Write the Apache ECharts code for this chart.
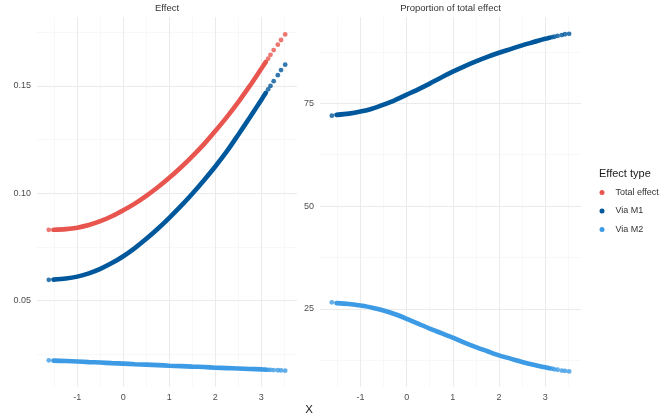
<!DOCTYPE html>
<html>
<head>
<meta charset="utf-8">
<script src="https://cdn.jsdelivr.net/npm/echarts@6/dist/echarts.min.js"></script>
<style>
html,body{margin:0;padding:0;background:#fff;}
#chart{width:670px;height:419px;}
</style>
</head>
<body>
<div id="chart"></div>
<script>
// ---- data ----
const seriesNames = ['Total effect', 'Via M1', 'Via M2'];
// X values along the dense part of each curve
const xDense = [-1.52, -1.25, -1, -0.75, -0.5, -0.25, 0, 0.25, 0.5, 0.75, 1, 1.25, 1.5, 1.75, 2, 2.25, 2.5, 2.75, 3, 3.10];
// X values of the isolated points at the tails
const xTail = [-1.62, 3.15, 3.20, 3.27, 3.36, 3.43, 3.52];

// Left panel: Effect
const totalDense = [0.0830, 0.0833, 0.0840, 0.0852, 0.0870, 0.0893, 0.0921, 0.0952, 0.0988, 0.1028, 0.1072, 0.1120, 0.1172, 0.1228, 0.1290, 0.1355, 0.1425, 0.1500, 0.1580, 0.1612];
const totalTail = [0.0830, 0.1627, 0.1645, 0.1667, 0.1692, 0.1714, 0.1740];
const m1Dense = [0.0598, 0.0603, 0.0612, 0.0627, 0.0648, 0.0675, 0.0707, 0.0745, 0.0788, 0.0835, 0.0886, 0.0940, 0.0998, 0.1060, 0.1125, 0.1195, 0.1273, 0.1353, 0.1435, 0.1468];
const m1Tail = [0.0597, 0.1484, 0.1500, 0.1522, 0.1550, 0.1574, 0.1599];
const m2Dense = [0.0221, 0.0219, 0.0217, 0.0214, 0.0212, 0.0209, 0.0207, 0.0204, 0.0202, 0.0200, 0.0197, 0.0195, 0.0193, 0.0191, 0.0188, 0.0186, 0.0184, 0.0182, 0.0180, 0.0179];
const m2Tail = [0.0222, 0.0178, 0.0178, 0.0177, 0.0176, 0.0175, 0.0174];

// Right panel: Proportion of total effect (%)
const propM1Dense = [72.2, 72.5, 73.0, 73.7, 74.7, 75.8, 77.1, 78.4, 79.8, 81.3, 82.7, 84.0, 85.2, 86.3, 87.3, 88.2, 89.1, 89.9, 90.7, 90.95];
const propM1Tail = [72.0, 91.1, 91.2, 91.4, 91.6, 91.8, 91.9];
const propM2Dense = [26.4, 26.2, 25.8, 25.3, 24.6, 23.7, 22.6, 21.4, 20.2, 19.1, 18.0, 16.8, 15.7, 14.7, 13.7, 12.9, 12.1, 11.4, 10.8, 10.55];
const propM2Tail = [26.6, 10.45, 10.3, 10.2, 10.0, 9.9, 9.8];

// tick values
const xMajorTicks = [-1, 0, 1, 2, 3];
const xMinorTicks = [-1.5, -0.5, 0.5, 1.5, 2.5, 3.5];
const yLeftMajorTicks = [0.05, 0.10, 0.15];
const yLeftMinorTicks = [0.025, 0.075, 0.125, 0.175];
const yRightMajorTicks = [25, 50, 75];
const yRightMinorTicks = [12.5, 37.5, 62.5, 87.5];

// ---- styling ----
const colors = {'Total effect': '#E8554E', 'Via M1': '#00589C', 'Via M2': '#3D9BE5'};
const FONT = 'Liberation Sans, Arial, sans-serif';

function pair(xs, ys) { return xs.map((x, i) => [x, ys[i]]); }

function makeAxis(grid, min, max, vals, minor, fmt) {
  return {
    type: 'value', gridIndex: grid, min: min, max: max,
    axisLine: {show: false},
    axisTick: {show: false, customValues: vals},
    axisLabel: minor ? {show: false} : {
      show: true, customValues: vals, formatter: fmt,
      color: '#4D4D4D', fontSize: 9, margin: 6, fontFamily: FONT
    },
    splitLine: {show: true, lineStyle: {color: minor ? '#F3F3F3' : '#EBEBEB', width: minor ? 0.6 : 1}},
    z: minor ? 0 : 1
  };
}

const xMin = -1.877, xMax = 3.777;
const xAxes = [
  makeAxis(0, xMin, xMax, xMajorTicks, false, v => String(v)),
  makeAxis(0, xMin, xMax, xMinorTicks, true),
  makeAxis(1, xMin, xMax, xMajorTicks, false, v => String(v)),
  makeAxis(1, xMin, xMax, xMinorTicks, true)
];
const yAxes = [
  makeAxis(0, 0.0098, 0.1821, yLeftMajorTicks, false, v => v.toFixed(2)),
  makeAxis(0, 0.0098, 0.1821, yLeftMinorTicks, true),
  makeAxis(1, 6.0, 96.0, yRightMajorTicks, false, v => String(v)),
  makeAxis(1, 6.0, 96.0, yRightMinorTicks, true)
];

function curve(name, axisIdx, dense, tail) {
  return [
    {
      name: name, type: 'line', xAxisIndex: axisIdx, yAxisIndex: axisIdx,
      data: pair(xDense, dense), smooth: 0.3, showSymbol: false, symbol: 'none',
      lineStyle: {color: colors[name], width: 4.6, cap: 'round'},
      itemStyle: {color: colors[name]}, z: 3
    },
    {
      name: name, type: 'scatter', xAxisIndex: axisIdx, yAxisIndex: axisIdx,
      data: pair(xTail, tail), symbolSize: 4.8,
      itemStyle: {color: colors[name]}, z: 3
    }
  ];
}

const series = [].concat(
  curve('Total effect', 0, totalDense, totalTail),
  curve('Via M1', 0, m1Dense, m1Tail),
  curve('Via M2', 0, m2Dense, m2Tail),
  curve('Via M1', 2, propM1Dense, propM1Tail),
  curve('Via M2', 2, propM2Dense, propM2Tail)
);

const chart = echarts.init(document.getElementById('chart'), null, {renderer: 'canvas'});
chart.setOption({
  animation: false,
  backgroundColor: '#ffffff',
  textStyle: {fontFamily: FONT},
  grid: [
    {left: 37, top: 17, width: 260, height: 370, containLabel: false},
    {left: 320, top: 17, width: 261, height: 370, containLabel: false}
  ],
  xAxis: xAxes,
  yAxis: yAxes,
  legend: {
    data: seriesNames,
    orient: 'vertical',
    left: 599.5, top: 186.5,
    icon: 'circle',
    itemWidth: 17, itemHeight: 5,
    itemGap: 6.5,
    textStyle: {fontSize: 9, color: '#333333', fontFamily: FONT, lineHeight: 12, padding: [0, 0, 0, 0]},
    padding: 0,
    selectedMode: false
  },
  graphic: [
    {type: 'text', x: 167, y: 8.5, style: {text: 'Effect', fontSize: 9.5, fill: '#333333', font: '9.5px ' + FONT, textAlign: 'center', textVerticalAlign: 'middle'}},
    {type: 'text', x: 450.5, y: 8.5, style: {text: 'Proportion of total effect', fontSize: 9.5, fill: '#333333', font: '9.5px ' + FONT, textAlign: 'center', textVerticalAlign: 'middle'}},
    {type: 'text', x: 309, y: 410, style: {text: 'X', fontSize: 11.5, fill: '#1A1A1A', font: '11.5px ' + FONT, textAlign: 'center', textVerticalAlign: 'middle'}},
    {type: 'text', x: 599, y: 173.5, style: {text: 'Effect type', fontSize: 11, fill: '#1A1A1A', font: '11px ' + FONT, textAlign: 'left', textVerticalAlign: 'middle'}}
  ],
  series: series
});
</script>
</body>
</html>
